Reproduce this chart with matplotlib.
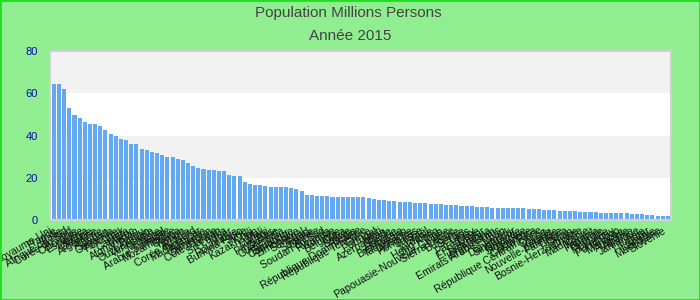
import numpy as np
import matplotlib
matplotlib.use('Agg')
import matplotlib.pyplot as plt
from matplotlib.patches import Rectangle

plt.rcParams['font.family'] = ['Liberation Sans', 'DejaVu Sans']

title = 'Population Millions Persons'
subtitle = 'Année 2015'

pays = [
    'Royaume-Uni', 'France', 'Italie', 'Afrique du Sud', 'Corée du Sud',
    'Colombie', 'Espagne', 'Kenya', 'Ukraine', 'Argentine',
    'Algérie', 'Soudan', 'Ouganda', 'Pologne', 'Irak',
    'Canada', 'Maroc', 'Afghanistan', 'Pérou', 'Ouzbékistan',
    'Venezuela', 'Malaisie', 'Népal', 'Arabie Saoudite', 'Mozambique',
    'Ghana', 'Yémen', 'Angola', 'Corée du Nord', 'Madagascar',
    'Australie', 'Cameroun', "Côte d'Ivoire", 'Taïwan', 'Sri Lanka',
    'Niger', 'Roumanie', 'Burkina Faso', 'Syrie', 'Chili',
    'Kazakhstan', 'Mali', 'Malawi', 'Pays-Bas', 'Zambie',
    'Guatemala', 'Équateur', 'Cambodge', 'Zimbabwe', 'Sénégal',
    'Tchad', 'Somalie', 'Guinée', 'Soudan du Sud', 'Rwanda',
    'Tunisie', 'Belgique', 'Cuba', 'Bolivie', 'Bénin',
    'République Dominicaine', 'République Tchèque', 'Grèce', 'Portugal', 'Haïti',
    'Azerbaïdjan', 'Suède', 'Hongrie', 'Biélorussie', 'Tadjikistan',
    'Autriche', 'Honduras', 'Suisse', 'Israël', 'Jordanie',
    'Hong Kong', 'Togo', 'Papouasie-Nouvelle-Guinée', 'Sierra Leone', 'Bulgarie',
    'Serbie', 'Laos', 'Paraguay', 'Libye', 'El Salvador',
    'Nicaragua', 'Kirghizistan', 'Emirats Arabes Unis', 'Liban', 'Danemark',
    'Singapour', 'Finlande', 'Slovaquie', 'Norvège', 'Costa Rica',
    'République Centrafricaine', 'Congo', 'Irlande', 'Nouvelle-Zélande', 'Palestine',
    'Liberia', 'Oman', 'Bosnie-Herzégovine', 'Croatie', 'Mauritanie',
    'Koweït', 'Panama', 'Géorgie', 'Moldavie', 'Uruguay',
    'Porto Rico', 'Mongolie', 'Arménie', 'Albanie', 'Jamaïque',
    'Lituanie', 'Qatar', 'Namibie', 'Macédoine', 'Slovénie',
]

population = [
    64.4, 64.4, 62.0, 53.0, 49.7, 48.3, 46.4, 45.4, 45.4, 44.5,
    42.6, 40.7, 39.8, 38.3, 37.9, 36.0, 36.0, 33.6, 33.1, 32.2,
    31.7, 30.8, 29.8, 29.8, 28.9, 28.4, 27.0, 25.6, 24.6, 24.1,
    23.7, 23.7, 23.2, 23.2, 21.3, 20.8, 20.8, 18.0, 17.0, 16.6,
    16.6, 16.1, 15.6, 15.6, 15.6, 15.6, 15.1, 14.7, 13.7, 11.8,
    11.8, 11.4, 11.4, 11.4, 10.9, 10.9, 10.9, 10.9, 10.9, 10.9,
    10.9, 10.4, 9.9, 9.5, 9.5, 9.0, 9.0, 8.5, 8.5, 8.5,
    8.0, 8.0, 8.0, 7.6, 7.6, 7.6, 7.1, 7.1, 7.1, 6.6,
    6.6, 6.6, 6.2, 6.2, 6.2, 5.7, 5.7, 5.7, 5.7, 5.7,
    5.7, 5.7, 5.2, 5.2, 5.2, 4.7, 4.7, 4.7, 4.3, 4.3,
    4.3, 4.3, 3.8, 3.8, 3.8, 3.8, 3.3, 3.3, 3.3, 3.3,
    3.3, 3.3, 2.8, 2.8, 2.8, 2.4, 2.4, 1.9, 1.9, 1.9,
]

yticks = [0, 20, 40, 60, 80]

fig = plt.figure(figsize=(7, 3), dpi=100, facecolor='#90EE90')
fig.patches.append(Rectangle((0, 0), 1, 1, transform=fig.transFigure,
                             fill=False, edgecolor='#22dd22', linewidth=2))

ax = fig.add_axes([50 / 700, 80 / 300, 621 / 700, 169 / 300])
ax.set_facecolor('white')

# bandes alternées
for lo, hi in zip(yticks[:-1], yticks[1:]):
    if lo in (20, 60):
        ax.axhspan(lo, hi, color='#f2f2f2', zorder=0, lw=0)

x = np.arange(len(pays))
ax.bar(x, population, width=0.78, color='#63a9f2', zorder=2)

ax.set_xlim(-0.75, len(pays) - 0.4)
ax.set_ylim(0, 80)
ax.set_yticks(yticks)
ax.set_xticks(x)
ax.set_xticklabels(pays, rotation=30, ha='right', fontsize=7.6, color='#111111')
ax.tick_params(axis='y', length=0, labelsize=8, labelcolor='#0a0ab0', pad=9)
ax.tick_params(axis='x', length=0, pad=4)
for s in ax.spines.values():
    s.set_color('#d0d0d0')
    s.set_linewidth(1.5)

fig.text(0.497, 0.955, title, ha='center', va='center', fontsize=11, color='#444444')
fig.text(0.5, 0.88, subtitle, ha='center', va='center', fontsize=11, color='#444444')

fig.savefig('out.png', dpi=100, facecolor=fig.get_facecolor())
